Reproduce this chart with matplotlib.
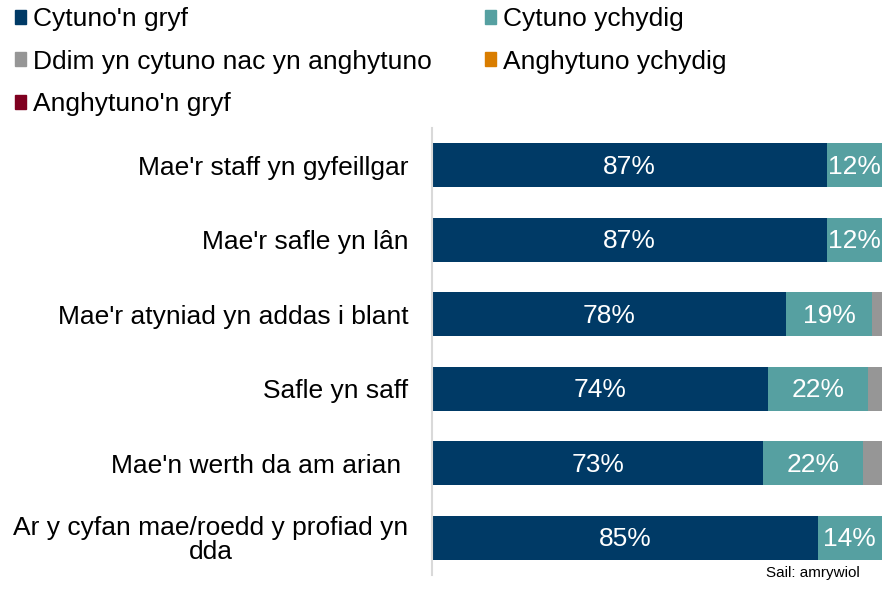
import numpy as np
import matplotlib.pyplot as plt
from matplotlib.patches import Patch

plt.rcParams['font.family'] = ['Liberation Sans', 'DejaVu Sans']

# data (top to bottom)
categories = ["Mae'r staff yn gyfeillgar",
              "Mae'r safle yn lân",
              "Mae'r atyniad yn addas i blant",
              "Safle yn saff",
              "Mae'n werth da am arian ",
              "Ar y cyfan mae/roedd y profiad yn\ndda"]
cytuno_gryf = [87, 87, 78, 74, 73, 85]
cytuno_ychydig = [12, 12, 19, 22, 22, 14]
ddim = [1, 1, 3, 4, 5, 1]
anghytuno_ychydig = [0, 0, 0, 0, 0, 0]
anghytuno_gryf = [0, 0, 0, 0, 0, 0]

series = [("Cytuno'n gryf", cytuno_gryf, '#003A66'),
          ("Cytuno ychydig", cytuno_ychydig, '#56A0A1'),
          ("Ddim yn cytuno nac yn anghytuno", ddim, '#969696'),
          ("Anghytuno ychydig", anghytuno_ychydig, '#D97D00'),
          ("Anghytuno'n gryf", anghytuno_gryf, '#7F0020')]

fig = plt.figure(figsize=(8.82, 5.91), dpi=100)
ax = fig.add_axes([432/882, 1-575/591, 450/882, 447/591])

y = np.arange(len(categories))
left = np.zeros(len(categories))
for i, (name, vals, col) in enumerate(series):
    vals = np.array(vals, dtype=float)
    ax.barh(y, vals, left=left, height=0.59, color=col, label=name)
    if i < 2:
        for yi, l, v in zip(y, left, vals):
            ax.text(l + v/2, yi + 0.02, f"{int(v)}%", ha='center', va='center',
                    color='white', fontsize=19)
    left += vals

ax.set_xlim(0, 99.1)
ax.set_ylim(len(categories) - 0.5, -0.5)
ax.set_yticks(y)
ax.set_yticklabels(categories, fontsize=19, multialignment='center', linespacing=1.0)
ax.tick_params(axis='y', length=0, pad=17)
ax.set_xticks([])
for s in ['top', 'right', 'bottom']:
    ax.spines[s].set_visible(False)
ax.spines['left'].set_color('#D9D9D9')
ax.spines['left'].set_linewidth(1.5)

# legend: column-first order
cols = {name: col for name, _, col in series}
order = ["Cytuno'n gryf", "Ddim yn cytuno nac yn anghytuno", "Anghytuno'n gryf",
         "Cytuno ychydig", "Anghytuno ychydig"]
handles = [Patch(color=cols[n]) for n in order]
fig.legend(handles, order, loc='upper left', bbox_to_anchor=(-0.0045, 1.019), ncol=2,
           frameon=False, fontsize=19, handlelength=0.43, handleheight=0.43,
           handletextpad=0.27, labelspacing=0.70, columnspacing=2.0,
           borderpad=0.2)

fig.text(0.975, 0.018, "Sail: amrywiol", ha='right', va='bottom', fontsize=11)

fig.savefig('out.png', dpi=100)
